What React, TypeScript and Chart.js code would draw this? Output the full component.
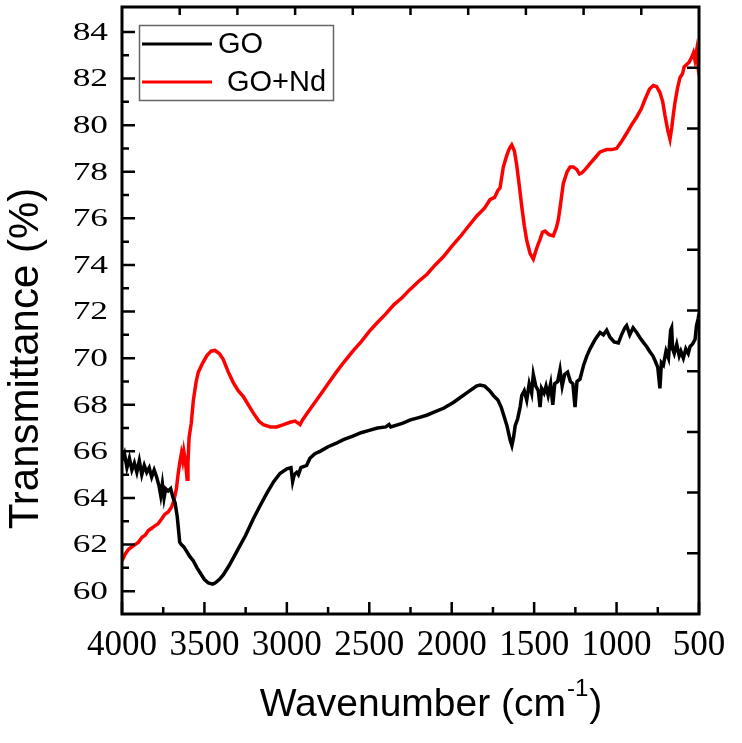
import React, { useEffect, useRef } from "react";
import { Chart, registerables } from "chart.js";

Chart.register(...registerables);

const seriesLabels = ["GO", "GO+Nd"];

const goWavenumber = [
  4000, 3985, 3970, 3955, 3940, 3925, 3910, 3895, 3880, 3865, 3850, 3835, 3820, 3805, 3790, 3775, 3765, 3755, 3745, 3735,
  3720, 3705, 3690, 3678, 3665, 3658, 3650, 3640, 3625, 3607, 3590, 3567, 3545, 3527, 3500, 3476, 3450, 3436, 3410, 3386,
  3350, 3304, 3250, 3204, 3160, 3122, 3080, 3042, 3000, 2975, 2965, 2955, 2940, 2930, 2915, 2880, 2860, 2830, 2799, 2750,
  2700, 2657, 2600, 2550, 2500, 2450, 2400, 2380, 2370, 2300, 2250, 2200, 2152, 2100, 2050, 1990, 1950, 1900, 1850, 1828,
  1800, 1770, 1748, 1720, 1700, 1687, 1665, 1646, 1635, 1625, 1615, 1600, 1585, 1575, 1560, 1545, 1530, 1515, 1505, 1490,
  1475, 1464, 1455, 1440, 1428, 1415, 1400, 1387, 1375, 1357, 1343, 1330, 1315, 1297, 1280, 1265, 1252, 1240, 1222, 1200,
  1180, 1161, 1130, 1100, 1080, 1060, 1040, 1015, 989, 970, 950, 939, 920, 900, 878, 860, 840, 818, 800, 780,
  767, 750, 737, 728, 716, 700, 685, 672, 666, 660, 650, 635, 620, 610, 595, 580, 565, 554, 540, 524,
  515, 505, 500,
];
const goTransmittance = [
  65.6, 65.9, 65.3, 65.7, 65.2, 65.5, 65.1, 65.6, 65.0, 65.4, 65.1, 65.3, 64.9, 65.2, 64.9, 64.5, 64.1, 64.6, 64.0, 64.4,
  64.3, 64.4, 64.0, 63.8, 63.2, 62.7, 62.1, 62.0, 61.9, 61.7, 61.5, 61.3, 61.0, 60.8, 60.5, 60.35, 60.3, 60.35, 60.5, 60.7,
  61.1, 61.7, 62.4, 63.1, 63.7, 64.2, 64.7, 65.05, 65.25, 65.3, 64.7, 65.0, 65.1, 65.0, 65.3, 65.4, 65.7, 65.9, 66.0, 66.2,
  66.35, 66.5, 66.65, 66.8, 66.9, 67.0, 67.05, 67.15, 67.05, 67.2, 67.35, 67.45, 67.55, 67.7, 67.85, 68.1, 68.3, 68.55, 68.8, 68.85,
  68.8, 68.6, 68.4, 68.2, 67.9, 67.6, 67.1, 66.5, 66.25, 66.6, 67.1, 67.4, 67.9, 68.4, 68.6, 68.2, 68.9, 68.5, 69.3, 68.8,
  68.6, 67.9, 68.7, 68.5, 68.8, 68.4, 68.9, 68.0, 68.9, 69.0, 69.5, 68.8, 69.3, 69.4, 69.0, 68.9, 67.9, 69.0, 69.1, 69.7,
  70.1, 70.4, 70.8, 71.1, 71.0, 71.2, 70.9, 70.7, 70.65, 71.0, 71.3, 71.4, 71.0, 71.3, 71.1, 70.9, 70.7, 70.5, 70.3, 70.1,
  69.9, 69.6, 68.7, 69.8, 69.7, 70.3, 70.0, 71.2, 71.3, 70.4, 70.2, 70.6, 70.1, 70.3, 70.0, 70.4, 70.2, 70.5, 70.6, 70.8,
  71.4, 71.7, 71.9,
];

const ndWavenumber = [
  4000, 3980, 3960, 3940, 3920, 3900, 3880, 3860, 3840, 3820, 3800, 3780, 3760, 3740, 3720, 3700, 3685, 3670, 3660, 3650,
  3640, 3632, 3625, 3618, 3610, 3605, 3600, 3593, 3580, 3567, 3550, 3537, 3510, 3486, 3460, 3436, 3410, 3386, 3355, 3325,
  3295, 3264, 3230, 3204, 3170, 3143, 3100, 3062, 3020, 2981, 2950, 2930, 2920, 2905, 2880, 2850, 2800, 2750, 2700, 2657,
  2600, 2550, 2500, 2455, 2400, 2350, 2300, 2253, 2200, 2150, 2100, 2051, 2000, 1950, 1900, 1848, 1800, 1768, 1740, 1720,
  1707, 1687, 1666, 1650, 1636, 1620, 1606, 1590, 1575, 1560, 1545, 1525, 1505, 1490, 1475, 1464, 1450, 1434, 1410, 1384,
  1365, 1353, 1340, 1323, 1300, 1282, 1262, 1242, 1225, 1211, 1190, 1161, 1130, 1100, 1060, 1030, 1000, 970, 939, 910,
  878, 850, 828, 800, 777, 757, 737, 720, 706, 690, 676, 665, 655, 645, 630, 615, 600, 590, 575, 560,
  545, 534, 525, 515, 508, 500,
];
const ndTransmittance = [
  61.3, 61.6, 61.8, 61.9, 62.0, 62.1, 62.3, 62.4, 62.6, 62.7, 62.8, 62.9, 63.1, 63.3, 63.4, 63.6, 63.9, 64.4, 65.0, 65.5,
  65.9, 65.6, 66.0, 65.7, 65.2, 64.8, 65.5, 66.6, 67.2, 68.2, 69.0, 69.4, 69.8, 70.1, 70.3, 70.33, 70.2, 69.95, 69.4, 68.95,
  68.6, 68.35, 67.95, 67.65, 67.3, 67.15, 67.05, 67.05, 67.15, 67.25, 67.3, 67.2, 67.15, 67.35, 67.6, 67.9, 68.4, 68.9, 69.4, 69.8,
  70.3, 70.7, 71.15, 71.5, 71.9, 72.3, 72.6, 72.95, 73.3, 73.6, 74.0, 74.35, 74.8, 75.2, 75.65, 76.1, 76.45, 76.8, 76.9, 77.2,
  77.3, 78.2, 78.7, 79.0, 79.15, 78.9, 78.3, 77.4, 76.5, 75.7, 75.05, 74.5, 74.25, 74.6, 74.9, 75.1, 75.4, 75.45, 75.3, 75.25,
  75.6, 75.95, 76.6, 77.5, 78.0, 78.2, 78.2, 78.1, 77.9, 77.95, 78.1, 78.35, 78.6, 78.85, 78.95, 78.95, 79.0, 79.3, 79.65, 80.0,
  80.35, 80.7, 81.1, 81.55, 81.7, 81.65, 81.4, 81.0, 80.4, 79.8, 79.4, 79.9, 80.5, 81.0, 81.6, 82.05, 82.2, 82.5, 82.6, 82.7,
  82.9, 83.1, 82.8, 83.2, 82.7, 83.1,
];

const xMajorTicks = [4000, 3500, 3000, 2500, 2000, 1500, 1000, 500];
const xMinorTicks = [3750, 3250, 2750, 2250, 1750, 1250, 750];
const yMajorTicks = [60, 62, 64, 66, 68, 70, 72, 74, 76, 78, 80, 82, 84];
const yMinorTicks = [61, 63, 65, 67, 69, 71, 73, 75, 77, 79, 81, 83];
const mirrorTicks = [1, 2, 3, 4, 5, 6, 7, 8, 9];

const xTitleMain = "Wavenumber (cm";
const xTitleSup = "-1";
const xTitleEnd = ")";
const yTitle = "Transmittance (%)";

const SANS = '"Liberation Sans", Arial, sans-serif';
const SERIF = '"Liberation Serif", "Times New Roman", serif';

const decorPlugin = {
  id: "decor",
  afterDatasetsDraw(chart: any) {
    const { ctx, chartArea: a, scales } = chart;
    const x = scales.x;
    const y = scales.y;
    const x2 = scales.x2;
    const y2 = scales.y2;
    ctx.save();
    ctx.strokeStyle = "#000";
    ctx.lineWidth = 2.5;
    ctx.lineCap = "butt";
    ctx.beginPath();
    for (const v of yMajorTicks) {
      const p = y.getPixelForValue(v);
      ctx.moveTo(a.left, p);
      ctx.lineTo(a.left + 13, p);
    }
    for (const v of yMinorTicks) {
      const p = y.getPixelForValue(v);
      ctx.moveTo(a.left, p);
      ctx.lineTo(a.left + 7, p);
    }
    for (const v of xMajorTicks) {
      const p = x.getPixelForValue(v);
      ctx.moveTo(p, a.bottom);
      ctx.lineTo(p, a.bottom - 12);
    }
    for (const v of xMinorTicks) {
      const p = x.getPixelForValue(v);
      ctx.moveTo(p, a.bottom);
      ctx.lineTo(p, a.bottom - 7);
    }
    for (const v of mirrorTicks) {
      const px = x2.getPixelForValue(v);
      ctx.moveTo(px, a.top);
      ctx.lineTo(px, a.top + 8);
      const py = y2.getPixelForValue(v);
      ctx.moveTo(a.right, py);
      ctx.lineTo(a.right - 12, py);
    }
    ctx.stroke();
    ctx.lineWidth = 3;
    ctx.strokeRect(a.left, a.top, a.right - a.left, a.bottom - a.top);

    // tick labels
    ctx.fillStyle = "#000";
    ctx.font = `26px ${SERIF}`;
    ctx.textAlign = "right";
    ctx.textBaseline = "middle";
    for (const v of yMajorTicks) {
      const p = y.getPixelForValue(v);
      ctx.save();
      ctx.translate(a.left - 14, p + 1);
      ctx.scale(1.36, 1);
      ctx.fillText(String(v), 0, 0);
      ctx.restore();
    }
    ctx.font = `35px ${SERIF}`;
    ctx.textAlign = "center";
    for (const v of xMajorTicks) {
      const p = x.getPixelForValue(v);
      ctx.fillText(String(v), p, a.bottom + 32);
    }

    // axis titles
    ctx.textBaseline = "alphabetic";
    ctx.font = `42px ${SANS}`;
    ctx.save();
    ctx.translate(38, (a.top + a.bottom) / 2 + 48);
    ctx.rotate(-Math.PI / 2);
    ctx.textAlign = "center";
    ctx.fillText(yTitle, 0, 0);
    ctx.restore();

    ctx.textAlign = "left";
    const mainFont = `39px ${SANS}`;
    const supFont = `24px ${SANS}`;
    ctx.font = mainFont;
    const w1 = ctx.measureText(xTitleMain).width;
    const w3 = ctx.measureText(xTitleEnd).width;
    ctx.font = supFont;
    const w2 = ctx.measureText(xTitleSup).width;
    const total = w1 + w2 + w3 + 2;
    let sx = 431 - total / 2;
    const base = 716;
    ctx.font = mainFont;
    ctx.fillText(xTitleMain, sx, base);
    sx += w1 + 1;
    ctx.font = supFont;
    ctx.fillText(xTitleSup, sx, base - 20);
    sx += w2 + 1;
    ctx.font = mainFont;
    ctx.fillText(xTitleEnd, sx, base);

    // legend
    ctx.strokeStyle = "#666";
    ctx.lineWidth = 1.5;
    ctx.strokeRect(139.5, 25.5, 194, 75);
    const colors = ["#000000", "#ff0000"];
    const rows = [44, 82];
    const textX = [218, 227];
    ctx.font = `29px ${SANS}`;
    ctx.textBaseline = "middle";
    for (let i = 0; i < 2; i++) {
      ctx.strokeStyle = colors[i];
      ctx.lineWidth = 3;
      ctx.beginPath();
      ctx.moveTo(142, rows[i]);
      ctx.lineTo(212, rows[i]);
      ctx.stroke();
      ctx.fillStyle = "#000";
      ctx.fillText(seriesLabels[i], textX[i], rows[i] + 1);
    }
    ctx.restore();
  },
};

export default function App() {
  const ref = useRef<HTMLCanvasElement>(null);
  useEffect(() => {
    if (!ref.current) return;
    const goData = goWavenumber.map((w, i) => ({ x: w, y: goTransmittance[i] }));
    const ndData = ndWavenumber.map((w, i) => ({ x: w, y: ndTransmittance[i] }));
    const chart = new Chart(ref.current, {
      type: "line",
      data: {
        datasets: [
          {
            label: seriesLabels[0],
            data: goData,
            borderColor: "#000000",
            borderWidth: 3.5,
            pointRadius: 0,
            tension: 0,
          },
          {
            label: seriesLabels[1],
            data: ndData,
            borderColor: "#ff0000",
            borderWidth: 3.5,
            pointRadius: 0,
            tension: 0,
          },
        ],
      },
      options: {
        responsive: false,
        maintainAspectRatio: false,
        animation: false,
        layout: { padding: { left: 122, right: 43, top: 7, bottom: 129 } },
        plugins: { legend: { display: false }, tooltip: { enabled: false } },
        scales: {
          x: { type: "linear", min: 500, max: 4000, reverse: true, display: false },
          y: { type: "linear", min: 59.02, max: 85.07, display: false },
          x2: { type: "linear", min: 0, max: 10, display: false, position: "top" },
          y2: { type: "linear", min: 0, max: 10, display: false, position: "right" },
        },
      },
      plugins: [decorPlugin],
    });
    return () => chart.destroy();
  }, []);
  return (
    <div style={{ position: "absolute", left: 0, top: 0, width: 742, height: 743, background: "#fff" }}>
      <canvas ref={ref} width={742} height={743} style={{ display: "block" }} />
    </div>
  );
}
